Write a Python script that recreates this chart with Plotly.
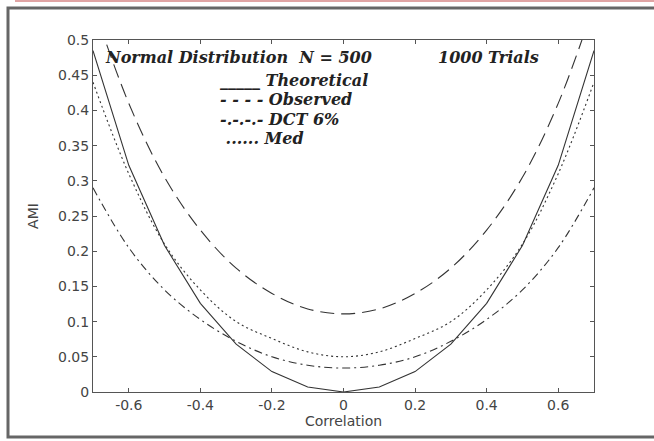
import plotly.graph_objects as go

correlation = [-0.7, -0.6, -0.5, -0.4, -0.3, -0.2, -0.1, 0.0, 0.1, 0.2, 0.3, 0.4, 0.5, 0.6, 0.7]
theoretical = [0.485, 0.322, 0.208, 0.126, 0.068, 0.029, 0.007, 0.0, 0.007, 0.029, 0.068, 0.126, 0.208, 0.322, 0.485]
observed = [0.55, 0.41, 0.305, 0.23, 0.176, 0.14, 0.118, 0.111, 0.118, 0.14, 0.176, 0.23, 0.305, 0.41, 0.55]
dct6 = [0.29, 0.205, 0.145, 0.103, 0.072, 0.05, 0.038, 0.034, 0.038, 0.05, 0.072, 0.103, 0.145, 0.205, 0.29]
med = [0.44, 0.31, 0.21, 0.145, 0.10, 0.076, 0.057, 0.05, 0.057, 0.076, 0.10, 0.145, 0.21, 0.31, 0.44]

x_ticks = [-0.6, -0.4, -0.2, 0, 0.2, 0.4, 0.6]
x_tick_labels = ["-0.6", "-0.4", "-0.2", "0", "0.2", "0.4", "0.6"]
y_ticks = [0, 0.05, 0.1, 0.15, 0.2, 0.25, 0.3, 0.35, 0.4, 0.45, 0.5]
y_tick_labels = ["0", "0.05", "0.1", "0.15", "0.2", "0.25", "0.3", "0.35", "0.4", "0.45", "0.5"]

# text legend lines, as written inside the original figure
legend_lines = ["_____ Theoretical", "- - - - Observed", "-.-.-.- DCT 6%", " ...... Med"]

LC = "#333333"
fig = go.Figure()
fig.add_trace(go.Scatter(x=correlation, y=theoretical, mode="lines", name="Theoretical",
                         line=dict(color=LC, width=1.1)))
fig.add_trace(go.Scatter(x=correlation, y=observed, mode="lines", name="Observed",
                         line=dict(color=LC, width=1.1, dash="14px,7px", shape="spline")))
fig.add_trace(go.Scatter(x=correlation, y=dct6, mode="lines", name="DCT 6%",
                         line=dict(color=LC, width=1.1, dash="8px,4px,2px,4px", shape="spline")))
fig.add_trace(go.Scatter(x=correlation, y=med, mode="lines", name="Med",
                         line=dict(color=LC, width=1.1, dash="2px,3px", shape="spline")))

axis_common = dict(showline=True, linecolor="#555", linewidth=1, mirror="ticks", ticks="inside",
                   ticklen=4, tickcolor="#555", showgrid=False, zeroline=False,
                   tickfont=dict(family="DejaVu Sans", size=14, color="#444"))

serif = dict(family="DejaVu Serif", size=16, color="#222")
annotations = [
    dict(text="<b><i>Normal Distribution  N = 500</i></b>", xref="paper", yref="paper",
         x=(238 - 93) / 501, y=(392 - 57) / 352, xanchor="center", yanchor="middle", showarrow=False,
         font=serif),
    dict(text="<b><i>1000 Trials</i></b>", xref="paper", yref="paper",
         x=(488 - 93) / 501, y=(392 - 57) / 352, xanchor="center", yanchor="middle", showarrow=False,
         font=serif),
]
legend_y_px = [80, 100, 119, 138]
for txt, ypx in zip(legend_lines, legend_y_px):
    annotations.append(dict(text="<b><i>" + txt.replace(" ", "&nbsp;") + "</i></b>", xref="paper", yref="paper",
                            x=(218 - 93) / 501, y=(392 - ypx) / 352, xanchor="left", yanchor="middle",
                            showarrow=False, font=serif))

fig.update_layout(
    width=654, height=441,
    margin=dict(l=93, r=60, t=40, b=49),
    paper_bgcolor="white", plot_bgcolor="white",
    showlegend=False,
    xaxis=dict(range=[-0.7, 0.7], tickvals=x_ticks, ticktext=x_tick_labels,
               title=dict(text="Correlation", font=dict(family="DejaVu Sans", size=14, color="#444"), standoff=0),
               **axis_common),
    yaxis=dict(range=[0, 0.5], tickvals=y_ticks, ticktext=y_tick_labels,
               title=dict(text="AMI", font=dict(family="DejaVu Sans", size=14, color="#444"), standoff=16),
               **axis_common),
    annotations=annotations,
    shapes=[
        dict(type="rect", xref="paper", yref="paper",
             x0=(8 - 93) / 501, x1=(670 - 93) / 501, y0=(392 - 437) / 352, y1=(392 - 8) / 352,
             line=dict(color="#666", width=3), layer="below"),
        dict(type="line", xref="paper", yref="paper",
             x0=(15 - 93) / 501, x1=(670 - 93) / 501, y0=(392 - 1) / 352, y1=(392 - 1) / 352,
             line=dict(color="#e0a4a4", width=2)),
    ],
)

fig.write_html("out.html")
